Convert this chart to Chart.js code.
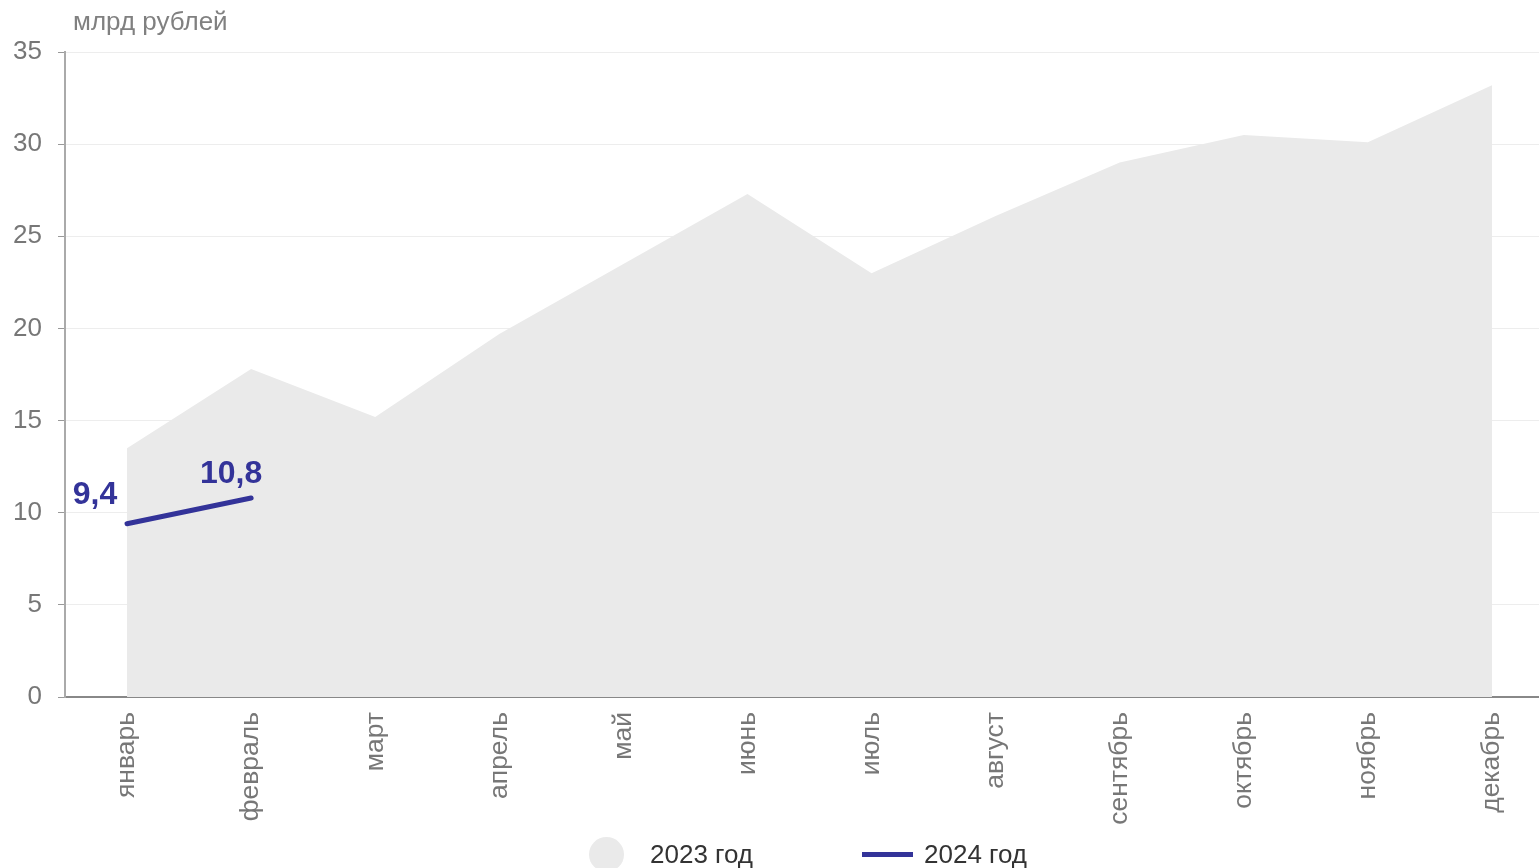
<!DOCTYPE html>
<html>
<head>
<meta charset="utf-8">
<script src="https://cdn.jsdelivr.net/npm/chart.js@4"></script>
<style>
  html, body { margin: 0; padding: 0; background: #fff; overflow: hidden; }
  #wrap { width: 1554px; height: 868px; position: relative; }
  #legend { position: absolute; left: 0; top: 836px; height: 36px; width: 100%;
            font-family: 'Liberation Sans', Arial, sans-serif; font-size: 26px; color: #333; }
  #legend .item { position: absolute; top: 0; height: 36px; display: flex; align-items: center; white-space: nowrap; }
  #legend .swatch { flex: none; }
</style>
</head>
<body>
<div id="wrap"><canvas id="chart"></canvas><div id="legend"></div></div>
<script>
// Data
const months = ["январь", "февраль", "март", "апрель", "май", "июнь",
                "июль", "август", "сентябрь", "октябрь", "ноябрь", "декабрь"];
const values2023 = [13.5, 17.8, 15.2, 19.7, 23.5, 27.3, 23.0, 26.1, 29.0, 30.5, 30.1, 33.2];
const values2024 = [9.4, 10.8];
const seriesNames = ["2023 год", "2024 год"];
const yTicks = [0, 5, 10, 15, 20, 25, 30, 35];

const FONT = "'Liberation Sans', Arial, sans-serif";
const AREA = "#eaeaea";
const BLUE = "#333399";

// title top-left + value labels on the 2024 line
const extras = {
    id: "extras",
    afterDraw(chart) {
        const ctx = chart.ctx;
        ctx.save();
        ctx.font = "26px " + FONT;
        ctx.fillStyle = "#808080";
        ctx.textBaseline = "middle";
        ctx.textAlign = "left";
        ctx.fillText("млрд рублей", chart.chartArea.left + 8, 23);

        const meta = chart.getDatasetMeta(1);
        const offsets = [[-32, -29], [-20, -24]];
        ctx.font = "bold 32px " + FONT;
        ctx.fillStyle = BLUE;
        ctx.textAlign = "center";
        meta.data.forEach((pt, i) => {
            const txt = String(values2024[i]).replace(".", ",");
            ctx.fillText(txt, pt.x + offsets[i][0], pt.y + offsets[i][1]);
        });
        ctx.restore();
    }
};

// html legend built from the chart's legend items
const htmlLegend = {
    id: "htmlLegend",
    afterUpdate(chart) {
        const box = document.getElementById("legend");
        box.innerHTML = "";
        const items = chart.options.plugins.legend.labels.generateLabels(chart)
            .sort((a, b) => a.datasetIndex - b.datasetIndex);
        const lefts = [589, 862];
        items.forEach((it, i) => {
            const el = document.createElement("div");
            el.className = "item";
            el.style.left = lefts[i] + "px";
            const sw = document.createElement("span");
            sw.className = "swatch";
            if (it.datasetIndex === 0) {
                sw.style.cssText = "width:35px;height:35px;border-radius:50%;margin-right:26px;background:" + AREA;
            } else {
                sw.style.cssText = "width:51px;height:5px;margin-right:11px;background:" + BLUE;
            }
            const tx = document.createElement("span");
            tx.textContent = it.text;
            el.appendChild(sw);
            el.appendChild(tx);
            box.appendChild(el);
        });
    }
};

new Chart(document.getElementById("chart"), {
    type: "line",
    data: {
        labels: months,
        datasets: [{
            label: seriesNames[0],
            data: values2023,
            fill: "origin",
            backgroundColor: AREA,
            borderWidth: 0,
            pointRadius: 0,
            order: 2
        }, {
            label: seriesNames[1],
            data: values2024,
            fill: false,
            borderColor: BLUE,
            backgroundColor: BLUE,
            borderWidth: 5,
            borderCapStyle: "round",
            pointRadius: 0,
            order: 1
        }]
    },
    options: {
        responsive: true,
        maintainAspectRatio: false,
        animation: false,
        events: [],
        layout: { padding: { top: 52, right: 0, left: 0, bottom: 31 } },
        scales: {
            x: {
                offset: true,
                grid: { display: false, drawTicks: false },
                border: { color: "#888", width: 2 },
                ticks: {
                    minRotation: 90, maxRotation: 90,
                    padding: 15,
                    color: "#777",
                    font: { family: FONT, size: 26.5 }
                },
                afterFit(s) { s.height = 140; }
            },
            y: {
                min: 0, max: 35,
                afterBuildTicks(s) { s.ticks = yTicks.map(v => ({ value: v })); },
                grid: { color: "#ededed", tickColor: "#999", tickLength: 7 },
                border: { color: "#aaa", width: 2 },
                ticks: {
                    padding: 16,
                    color: "#777",
                    font: { family: FONT, size: 26 }
                },
                afterFit(s) { s.width = 65; }
            }
        },
        plugins: {
            legend: { display: false },
            tooltip: { enabled: false }
        }
    },
    plugins: [extras, htmlLegend]
});
</script>
</body>
</html>
